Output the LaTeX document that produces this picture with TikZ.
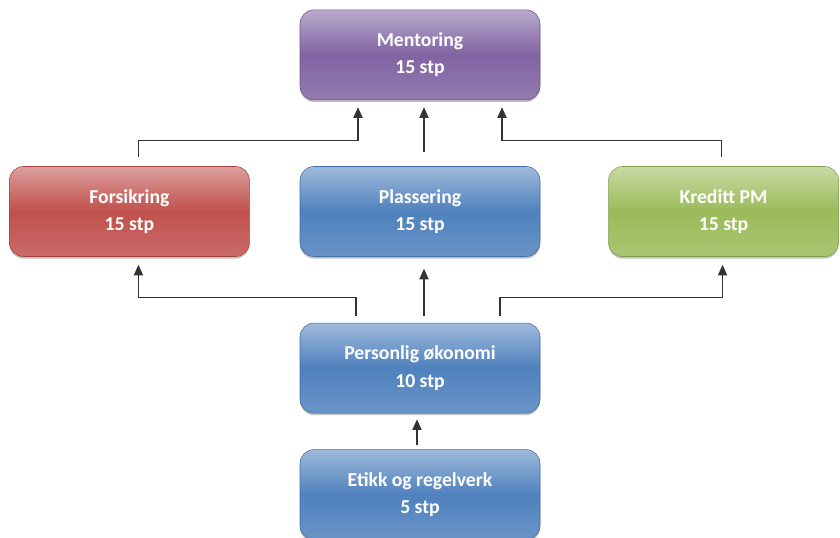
\documentclass[tikz,border=0pt]{standalone}
\usepackage{fontspec}
\setmainfont{Carlito}
\usepackage{tikz}
\usetikzlibrary{arrows.meta,positioning,shadows}
\definecolor{lil}{HTML}{8064A2}
\definecolor{rod}{HTML}{C0504D}
\definecolor{blu}{HTML}{4F81BD}
\definecolor{grn}{HTML}{9BBB59}

\begin{document}
\begin{tikzpicture}[
  box/.style={rounded corners=0.35cm,minimum width=6cm,minimum height=2.25cm,
    align=center,text=white,font=\fontsize{14}{19.5}\selectfont\bfseries,
    top color=#1!55!white,bottom color=#1!85!white,middle color=#1,
    draw=#1!85!black,line width=0.4pt,
    drop shadow={shadow xshift=0pt,shadow yshift=-1.5pt,opacity=0.5}},
  link/.style={draw=black!80,line width=0.9pt,-{Triangle[width=6.5pt,length=7.5pt]}}]
  \useasboundingbox (0,0) rectangle (21,13.45);
  \node[box=blu] (plas) at (10.5,8.1625) {Plassering\\15 stp};
  \node[box=lil,above=1.65cm of plas] (ment) {Mentoring\\15 stp};
  \node[box=rod,left=1.25cm of plas] (fors) {Forsikring\\15 stp};
  \node[box=grn,right=1.7cm of plas,minimum width=5.75cm] (kred) {Kreditt PM\\15 stp};
  \node[box=blu,below=1.65cm of plas] (pers) {Personlig økonomi\\10 stp};
  \node[box=blu,below=0.9cm of pers] (etik) {Etikk og regelverk\\5 stp};

  \draw[link] ([xshift=0.225cm,yshift=0.225cm]fors.north) -- ++(0,0.425)
    -| ([xshift=-1.55cm,yshift=-0.175cm]ment.south);
  \draw[link] ([xshift=0.1cm,yshift=0.35cm]plas.north) -- ([xshift=0.1cm,yshift=-0.175cm]ment.south);
  \draw[link] ([xshift=-0.05cm,yshift=0.225cm]kred.north) -- ++(0,0.425)
    -| ([xshift=2.05cm,yshift=-0.175cm]ment.south);
  \draw[link] ([xshift=-1.6cm,yshift=0.175cm]pers.north) -- ++(0,0.45)
    -| ([xshift=0.225cm,yshift=-0.2cm]fors.south);
  \draw[link] ([xshift=0.1cm,yshift=0.175cm]pers.north) -- ([xshift=0.1cm,yshift=-0.3cm]plas.south);
  \draw[link] ([xshift=2cm,yshift=0.175cm]pers.north) -- ++(0,0.45)
    -| ([xshift=-0.025cm,yshift=-0.2cm]kred.south);
  \draw[link] ([xshift=-0.075cm,yshift=0.1cm]etik.north) -- ([xshift=-0.075cm,yshift=-0.15cm]pers.south);
\end{tikzpicture}
\end{document}
